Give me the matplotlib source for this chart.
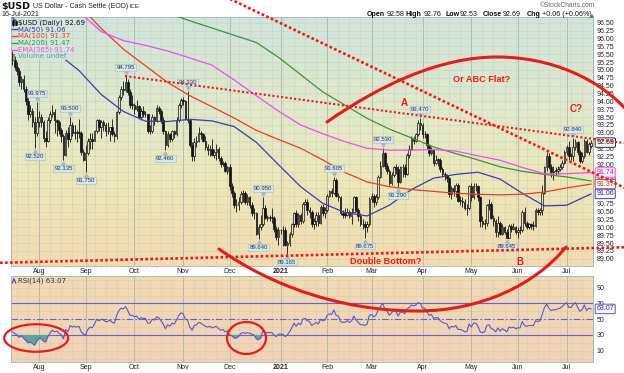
import numpy as np
import pandas as pd
import matplotlib
matplotlib.use("Agg")
import matplotlib.pyplot as plt
from matplotlib.colors import LinearSegmentedColormap
from matplotlib.patches import Ellipse, PathPatch
from matplotlib.path import Path
import matplotlib.transforms as mtrans

plt.rcParams['font.family'] = ['Liberation Sans', 'DejaVu Sans']

W, H, DPI = 624, 373, 100

# ---------------- data ----------------
dates = pd.bdate_range("2020-07-16", "2021-07-16")

opens = [
    95.50, 95.30, 95.10, 94.95, 94.60, 94.70, 94.40, 94.00, 93.60, 93.70, 93.35, 93.00,
    93.35, 93.50, 93.35, 92.85, 92.75, 93.40, 93.60, 93.65, 93.40, 93.35, 93.10, 92.90, 92.30, 93.00, 92.80, 93.25, 93.00, 93.00, 93.00, 93.00, 92.40,
    92.15, 92.35, 92.75, 92.80, 92.75, 93.05, 93.40, 93.20, 93.35, 93.25, 93.05, 93.05, 93.20, 92.95, 92.90, 93.65, 94.15, 94.40, 94.35, 94.60, 94.30, 93.90,
    93.90, 93.75, 93.85, 93.50, 93.70, 93.60, 93.60, 93.05, 93.05, 93.50, 93.40, 93.80, 93.70, 93.40, 93.05, 92.60, 92.95, 92.80, 93.05, 92.95, 93.40, 93.90,
    94.05, 94.00, 93.45, 93.40, 92.60, 92.25, 92.70, 92.75, 93.00, 92.95, 92.75, 92.55, 92.45, 92.50, 92.30, 92.40, 92.50, 92.20, 92.00, 92.05, 91.80,
    91.90, 91.30, 91.10, 90.70, 90.70, 90.80, 91.05, 91.10, 90.80, 90.95, 90.70, 90.45, 90.45, 89.80, 90.00, 90.10, 90.60, 90.30, 90.30, 90.30, 90.30, 89.95, 89.70, 89.90,
    89.90, 89.90, 89.45, 89.50, 89.80, 90.10, 90.45, 90.10, 90.40, 90.20, 90.75, 90.80, 90.55, 90.50, 90.10, 90.20, 90.40, 90.15, 90.65, 90.45,
    90.55, 91.00, 91.15, 91.10, 91.50, 91.00, 90.95, 90.45, 90.40, 90.40, 90.50, 90.35, 90.50, 90.95, 90.55, 90.35, 90.10, 90.10, 90.00, 90.10,
    90.90, 91.00, 90.80, 90.95, 91.60, 91.95, 92.35, 91.95, 91.80, 91.40, 91.65, 91.90, 91.85, 91.45, 91.90, 91.90, 91.70, 92.30, 92.50, 92.80, 92.75, 92.95, 93.30,
    93.25, 92.95, 92.95, 92.60, 92.35, 92.45, 92.05, 92.15, 92.15, 91.85, 91.70, 91.65, 91.55, 91.05, 91.25, 91.15, 91.35, 90.85, 90.85, 90.80, 90.60, 90.60,
    91.30, 90.95, 91.30, 91.30, 90.95, 90.20, 90.10, 90.15, 90.70, 90.75, 90.30, 90.20, 89.85, 90.15, 89.80, 90.00, 89.85, 89.65, 90.05, 89.95, 90.00,
    89.85, 89.90, 89.90, 90.50, 90.15, 90.00, 90.10, 90.05, 90.05, 90.55, 90.50, 90.55, 91.10, 91.90, 92.25, 91.90, 91.75, 91.80, 91.80, 91.85, 91.90, 92.05,
    92.40, 92.55, 92.25, 92.25, 92.55, 92.70, 92.40, 92.10, 92.25, 92.75, 92.40, 92.58,
]
highs = [
    95.60, 95.45, 95.25, 95.05, 94.80, 94.85, 94.50, 94.10, 93.90, 93.80, 93.50, 93.975,
    93.70, 93.60, 93.40, 93.05, 93.50, 93.70, 93.90, 93.75, 93.45, 93.40, 93.15, 92.95, 93.10, 93.20, 93.50, 93.35, 93.25, 93.10, 93.45, 93.05, 92.50,
    92.60, 92.85, 93.00, 93.00, 93.10, 93.45, 93.45, 93.40, 93.40, 93.30, 93.35, 93.20, 93.45, 93.05, 93.70, 94.20, 94.50, 94.65, 94.795, 94.70, 94.40, 94.20,
    93.95, 94.05, 93.90, 93.80, 93.85, 93.70, 93.60, 93.25, 93.60, 93.55, 93.90, 93.85, 93.75, 93.50, 93.10, 93.05, 93.00, 93.10, 93.10, 93.50, 93.95, 94.10,
    94.15, 94.05, 94.33, 93.45, 92.70, 92.85, 92.90, 93.20, 93.05, 93.00, 92.90, 92.65, 92.60, 92.80, 92.50, 92.65, 92.55, 92.25, 92.10, 92.10, 91.95,
    92.00, 91.40, 91.15, 90.90, 90.95, 91.15, 91.20, 91.15, 91.05, 91.00, 90.80, 90.60, 90.50, 90.10, 90.40, 90.95, 90.70, 90.40, 90.40, 90.60, 90.35, 90.05, 90.00, 89.95,
    90.05, 90.00, 89.55, 89.85, 90.15, 90.50, 90.55, 90.45, 90.45, 90.80, 90.90, 90.90, 90.65, 90.55, 90.30, 90.50, 90.50, 90.70, 90.75, 90.65,
    91.05, 91.20, 91.25, 91.605, 91.55, 91.10, 91.00, 90.55, 90.60, 90.60, 90.55, 90.60, 91.00, 91.00, 90.60, 90.45, 90.25, 90.20, 90.20, 90.95,
    91.10, 91.05, 91.05, 91.65, 92.10, 92.53, 92.40, 92.05, 91.85, 91.75, 91.95, 92.00, 91.95, 91.95, 92.00, 92.00, 92.35, 92.60, 92.90, 92.90, 93.00, 93.40, 93.47,
    93.30, 93.05, 93.00, 92.65, 92.55, 92.50, 92.30, 92.20, 92.20, 91.90, 91.75, 91.70, 91.60, 91.30, 91.35, 91.40, 91.40, 91.00, 90.95, 90.90, 90.75, 91.35,
    91.40, 91.40, 91.40, 91.35, 91.00, 90.35, 90.25, 90.75, 90.90, 90.80, 90.40, 90.25, 90.35, 90.20, 90.10, 90.05, 89.95, 90.10, 90.10, 90.15, 90.05,
    90.00, 90.05, 90.55, 90.65, 90.20, 90.15, 90.15, 90.20, 90.60, 90.60, 90.60, 91.35, 91.95, 92.40, 92.35, 92.00, 91.95, 91.90, 91.95, 92.00, 92.15, 92.45,
    92.60, 92.75, 92.35, 92.84, 92.80, 92.75, 92.45, 92.40, 92.80, 92.80, 92.70, 92.76,
]
lows = [
    95.15, 95.00, 94.85, 94.50, 94.40, 94.30, 93.90, 93.40, 93.50, 93.20, 92.52, 92.90,
    93.20, 93.20, 92.70, 92.55, 92.70, 93.30, 93.50, 93.00, 92.90, 92.95, 92.70, 92.135, 92.25, 92.55, 92.70, 92.90, 92.80, 92.70, 92.85, 92.30, 92.10,
    91.75, 92.30, 92.50, 92.50, 92.75, 93.00, 93.05, 92.85, 93.05, 92.90, 92.95, 92.75, 92.90, 92.70, 92.80, 93.60, 94.05, 94.20, 94.30, 94.20, 93.80, 93.75,
    93.60, 93.70, 93.45, 93.40, 93.50, 93.50, 93.00, 92.95, 93.00, 93.25, 93.35, 93.60, 93.30, 92.95, 92.46, 92.55, 92.70, 92.75, 92.85, 92.90, 93.35, 93.80,
    93.90, 93.40, 93.30, 92.55, 92.10, 92.10, 92.55, 92.70, 92.80, 92.70, 92.45, 92.30, 92.25, 92.30, 92.20, 92.15, 92.10, 91.90, 91.95, 91.75, 91.70,
    91.20, 90.95, 90.60, 90.50, 90.55, 90.75, 90.80, 90.75, 90.70, 90.60, 90.35, 90.25, 89.75, 89.64, 89.90, 90.05, 90.25, 90.20, 90.20, 90.15, 89.85, 89.60, 89.45, 89.80,
    89.40, 89.40, 89.165, 89.40, 89.70, 90.00, 90.00, 90.00, 90.10, 90.15, 90.70, 90.40, 90.30, 90.00, 89.95, 90.05, 90.05, 90.10, 90.35, 90.30,
    90.50, 90.95, 90.95, 91.05, 90.95, 90.85, 90.40, 90.30, 90.30, 90.35, 90.30, 90.10, 90.45, 90.50, 90.20, 90.05, 89.95, 89.675, 89.85, 90.05,
    90.80, 90.65, 90.70, 90.90, 91.55, 91.90, 91.85, 91.70, 91.35, 91.35, 91.60, 91.70, 91.29, 91.40, 91.60, 91.60, 91.65, 92.20, 92.45, 92.65, 92.70, 92.90, 93.10,
    92.85, 92.85, 92.50, 92.25, 92.30, 91.95, 92.00, 91.95, 91.75, 91.60, 91.50, 91.45, 90.95, 90.90, 91.00, 90.95, 90.80, 90.70, 90.65, 90.55, 90.40, 90.55,
    90.85, 90.90, 91.15, 90.85, 90.00, 90.00, 89.95, 90.05, 90.55, 90.25, 90.05, 89.70, 89.70, 89.75, 89.75, 89.80, 89.645, 89.65, 89.85, 89.90, 89.80,
    89.65, 89.80, 89.85, 90.05, 89.95, 89.95, 89.95, 89.90, 90.00, 90.40, 90.40, 90.40, 91.05, 91.80, 91.85, 91.60, 91.50, 91.65, 91.70, 91.80, 91.85, 92.00,
    92.30, 92.15, 92.15, 92.10, 92.45, 92.30, 92.05, 92.05, 92.20, 92.35, 92.30, 92.53,
]
closes = [
    95.30, 95.10, 94.95, 94.60, 94.70, 94.40, 94.00, 93.60, 93.70, 93.35, 93.00, 93.35,
    93.50, 93.35, 92.85, 92.75, 93.40, 93.60, 93.65, 93.40, 93.35, 93.10, 92.90, 92.30, 93.00, 92.80, 93.25, 93.00, 93.00, 93.00, 93.00, 92.40, 92.15,
    92.35, 92.75, 92.80, 92.75, 93.05, 93.40, 93.20, 93.35, 93.25, 93.05, 93.05, 93.20, 92.95, 92.90, 93.65, 94.15, 94.40, 94.35, 94.60, 94.30, 93.90, 93.90,
    93.75, 93.85, 93.50, 93.70, 93.60, 93.60, 93.05, 93.05, 93.50, 93.40, 93.80, 93.70, 93.40, 93.05, 92.60, 92.95, 92.80, 93.05, 92.95, 93.40, 93.90, 94.05,
    94.00, 93.45, 93.40, 92.60, 92.25, 92.70, 92.75, 93.00, 92.95, 92.75, 92.55, 92.45, 92.50, 92.30, 92.40, 92.50, 92.20, 92.00, 92.05, 91.80, 91.90,
    91.30, 91.10, 90.70, 90.70, 90.80, 91.05, 91.10, 90.80, 90.95, 90.70, 90.45, 90.45, 89.80, 90.00, 90.10, 90.60, 90.30, 90.30, 90.30, 90.30, 89.95, 89.70, 89.90, 89.90,
    89.90, 89.45, 89.50, 89.80, 90.10, 90.45, 90.10, 90.40, 90.20, 90.75, 90.80, 90.55, 90.50, 90.10, 90.20, 90.40, 90.15, 90.65, 90.45, 90.55,
    91.00, 91.15, 91.10, 91.50, 91.00, 90.95, 90.45, 90.40, 90.40, 90.50, 90.35, 90.50, 90.95, 90.55, 90.35, 90.10, 90.10, 90.00, 90.10, 90.90,
    91.00, 90.80, 90.95, 91.60, 91.95, 92.35, 91.95, 91.80, 91.40, 91.65, 91.90, 91.85, 91.45, 91.90, 91.90, 91.70, 92.30, 92.50, 92.80, 92.75, 92.95, 93.30, 93.25,
    92.95, 92.95, 92.60, 92.35, 92.45, 92.05, 92.15, 92.15, 91.85, 91.70, 91.65, 91.55, 91.05, 91.25, 91.15, 91.35, 90.85, 90.85, 90.80, 90.60, 90.60, 91.30,
    90.95, 91.30, 91.30, 90.95, 90.20, 90.10, 90.15, 90.70, 90.75, 90.30, 90.20, 89.85, 90.15, 89.80, 90.00, 89.85, 89.65, 90.05, 89.95, 90.00, 89.85,
    89.90, 89.90, 90.50, 90.15, 90.00, 90.10, 90.05, 90.05, 90.55, 90.50, 90.55, 91.10, 91.90, 92.25, 91.90, 91.75, 91.80, 91.80, 91.85, 91.90, 92.05, 92.40,
    92.55, 92.25, 92.25, 92.55, 92.70, 92.40, 92.10, 92.25, 92.75, 92.40, 92.63, 92.69,
]

# moving-average overlays (sample every 10 bars)
ma_idx = [0, 10, 20, 30, 40, 50, 60, 70, 80, 90, 100, 110, 120, 130, 140, 150, 160, 170,
          180, 190, 200, 210, 220, 230, 240, 250, 261]
ma50 = [96.65, 96.10, 95.54, 94.98, 94.22, 93.68, 93.37, 93.36, 93.43, 93.38, 93.20, 92.70,
        91.99, 91.29, 90.76, 90.47, 90.36, 90.70, 91.20, 91.56, 91.68, 91.75, 91.53, 91.08,
        90.68, 90.70, 91.06]
ma100 = [99.20, 98.50, 97.80, 97.05, 96.32, 95.66, 95.13, 94.60, 94.18, 93.83, 93.47, 93.08,
         92.79, 92.51, 92.14, 91.74, 91.44, 91.29, 91.20, 91.14, 91.08, 91.05, 91.03, 91.05,
         91.12, 91.25, 91.37]
ma200 = [97.80, 97.70, 97.55, 97.40, 97.30, 97.15, 96.98, 96.80, 96.56, 96.33, 96.10, 95.87,
         95.40, 94.85, 94.30, 93.88, 93.46, 93.12, 92.84, 92.55, 92.34, 92.14, 91.92, 91.78,
         91.68, 91.60, 91.47]
ema365 = [98.00, 97.60, 97.20, 96.85, 96.22, 95.93, 95.78, 95.60, 95.38, 95.15, 94.68, 94.18,
          93.69, 93.25, 92.97, 92.72, 92.51, 92.45, 92.45, 92.47, 92.42, 92.27, 92.13, 91.90,
          91.70, 91.70, 91.74]

rsi = [
    34, 32, 30, 27, 29, 26, 23, 20, 21, 19, 17, 22,
    26, 25, 22, 21, 28, 33, 36, 34, 35, 32, 30, 25, 37, 34, 42, 40, 41, 40, 41, 34, 31,
    30, 37, 40, 39, 44, 50, 48, 50, 49, 47, 47, 49, 46, 45, 55, 61, 64, 63, 66, 61, 55, 55,
    53, 54, 50, 52, 51, 51, 45, 45, 50, 49, 53, 52, 48, 44, 38, 43, 41, 45, 44, 49, 55, 58,
    57, 50, 49, 40, 36, 42, 43, 46, 45, 43, 41, 40, 41, 39, 40, 41, 38, 36, 37, 34, 35,
    30, 29, 26, 26, 28, 32, 33, 32, 33, 32, 31, 30, 25, 24, 26, 36, 33, 33, 33, 33, 30, 28, 31, 31,
    31, 28, 30, 34, 39, 45, 41, 45, 43, 50, 51, 48, 47, 42, 44, 46, 44, 50, 48, 49,
    55, 57, 56, 62, 55, 54, 47, 46, 46, 48, 46, 48, 54, 49, 46, 43, 43, 42, 44, 55,
    56, 53, 55, 62, 66, 70, 63, 60, 55, 58, 61, 60, 54, 59, 59, 57, 63, 65, 68, 67, 68, 71, 70,
    64, 64, 59, 55, 56, 51, 52, 52, 48, 46, 45, 44, 38, 41, 40, 42, 37, 37, 36, 34, 34, 44,
    40, 45, 45, 41, 34, 33, 34, 42, 43, 38, 37, 34, 39, 35, 38, 36, 34, 40, 39, 40, 38,
    39, 39, 47, 42, 41, 42, 42, 42, 48, 47, 48, 56, 65, 69, 64, 61, 62, 62, 63, 64, 66, 69,
    71, 65, 65, 69, 71, 65, 60, 62, 68, 61, 64, 63.07,
]

peak_idx = [11, 26, 51, 79, 113, 145, 167, 184, 253]
peak_val = [93.975, 93.500, 94.795, 94.330, 90.950, 91.605, 92.530, 93.470, 92.840]
trough_idx = [10, 23, 33, 69, 111, 124, 159, 174, 223]
trough_val = [92.520, 92.135, 91.750, 92.460, 89.640, 89.165, 89.675, 91.290, 89.645]

# ---------------- figure ----------------
fig = plt.figure(figsize=(W / DPI, H / DPI), dpi=DPI)
fig.patch.set_facecolor("white")


def rect(l, t, r, b):
    return [l / W, 1 - b / H, (r - l) / W, (b - t) / H]


n = len(dates)
x = np.arange(n)
O, Hh, L, C = (np.array(v, float) for v in (opens, highs, lows, closes))
R = np.array(rsi, float)
XL = (-0.9, n - 0.1)
YM = (88.77, 96.68)
YR = (-4.3, 105.2)

month_pos = [i for i in range(1, n) if dates[i].month != dates[i - 1].month]
month_txt = [str(dates[i].year) if dates[i].month == 1 else dates[i].strftime("%b") for i in month_pos]
week_pos = [i for i in range(n) if dates[i].weekday() == 0]

grad = np.linspace(0, 1, 256).reshape(-1, 1)
cm_main = LinearSegmentedColormap.from_list("bgm", ["#cfe5dd", "#dfe9cb", "#eee7b6", "#f4dcb0"])
cm_rsi = LinearSegmentedColormap.from_list("bgr", ["#f2dbb3", "#f1d2b7"])

ax = fig.add_axes(rect(10.5, 17, 593, 266))
rx = fig.add_axes(rect(10.5, 275.7, 593, 362))
ax.imshow(grad, cmap=cm_main, aspect="auto", extent=(XL[0], XL[1], YM[0], YM[1]),
          origin="upper", zorder=-10, interpolation="bilinear")
rx.imshow(grad, cmap=cm_rsi, aspect="auto", extent=(XL[0], XL[1], YR[0], YR[1]),
          origin="upper", zorder=-10, interpolation="bilinear")

for a in (ax, rx):
    a.set_xlim(XL)
    a.set_xticks(month_pos)
    a.set_xticklabels(month_txt)
    a.set_xticks(week_pos, minor=True)
    a.grid(True, which="major", axis="x", color="#aab5b0", lw=0.6)
    a.grid(True, which="minor", axis="x", color="#cbd1c6", lw=0.4)
    a.tick_params(axis="both", which="both", length=0, labelsize=5, colors="#222222")
    a.tick_params(axis="x", pad=1.3)
    a.yaxis.tick_right()
    a.tick_params(axis="y", pad=2.4)
    for s in a.spines.values():
        s.set_color("#9fb2ba")
        s.set_linewidth(0.6)
    for t in a.get_xticklabels():
        if t.get_text().isdigit():
            t.set_fontweight("bold")

# main panel
ax.set_ylim(YM)
yt = np.arange(89.0, 96.51, 0.25)
ax.set_yticks(yt)
ax.set_yticklabels([f"{v:.2f}" for v in yt])
ax.grid(True, which="major", axis="y", color="#cbd1c6", lw=0.4)

up = C >= O
top = np.maximum(O, C)
bot = np.minimum(O, C)
bh = np.maximum(top - bot, 0.012)
ax.vlines(x, top, Hh, color="#111111", lw=0.6, zorder=3)
ax.vlines(x, L, bot, color="#111111", lw=0.6, zorder=3)
ax.bar(x[up], bh[up], bottom=bot[up], width=0.72, facecolor="none", edgecolor="#111111", lw=0.5, zorder=3)
ax.bar(x[~up], bh[~up], bottom=bot[~up], width=0.72, facecolor="#111111", edgecolor="#111111", lw=0.5, zorder=3)

c50, c100, c200, cema = "#3d3da8", "#e0402c", "#3a963a", "#f04cf0"
ax.plot(ma_idx, ma50, color=c50, lw=0.9, zorder=4)
ax.plot(ma_idx, ma100, color=c100, lw=0.9, zorder=4)
ax.plot(ma_idx, ma200, color=c200, lw=0.9, zorder=4)
ax.plot(ma_idx, ema365, color=cema, lw=0.9, zorder=4)

lab_box = dict(boxstyle="square,pad=0.15", fc="#d4e7ec", ec="#a2bcc6", lw=0.4)
for i, v in zip(peak_idx, peak_val):
    ax.annotate(f"{v:.3f}", (i, v), xytext=(0, 8.5), textcoords="offset pixels", ha="center",
                va="center", fontsize=4.3, color="#333333", bbox=lab_box, zorder=6)
    ax.plot(i, v, marker="v", ms=2.4, color="#a2bcc6", zorder=6,
            transform=mtrans.offset_copy(ax.transData, fig, x=0, y=3, units="dots"))
for i, v in zip(trough_idx, trough_val):
    ax.annotate(f"{v:.3f}", (i, v), xytext=(0, -8.5), textcoords="offset pixels", ha="center",
                va="center", fontsize=4.3, color="#333333", bbox=lab_box, zorder=6)
    ax.plot(i, v, marker="^", ms=2.4, color="#a2bcc6", zorder=6,
            transform=mtrans.offset_copy(ax.transData, fig, x=0, y=-3, units="dots"))

bt = mtrans.blended_transform_factory(ax.transAxes, ax.transData)
for val, ec, tc in [(ma200[-1], c200, "#2c6e2c"), (ma100[-1], c100, "#c0302a"),
                    (ema365[-1], cema, "#b020b0"), (ma50[-1], c50, "#2e2e90"),
                    (C[-1], "#333333", "#111111")]:
    ax.text(1.0058, val, f"{val:.2f}", transform=bt, fontsize=5, color=tc, ha="left", va="center",
            bbox=dict(boxstyle="round,pad=0.18", fc="#f4f4f4", ec=ec, lw=0.7), clip_on=False, zorder=30)

# RSI panel
rx.set_ylim(YR)
rx.set_yticks([10, 30, 50, 70, 90])
rx.set_yticks([0, 20, 40, 60, 80, 100], minor=True)
rx.grid(True, which="both", axis="y", color="#dec8a6", lw=0.4)
rx.fill_between(x, R, 30, where=R < 30, interpolate=True, color="#5ea49c", lw=0, zorder=3)
rx.axhline(70, color="#6262d0", lw=0.8, zorder=2)
rx.axhline(30, color="#6262d0", lw=0.8, zorder=2)
rx.axhline(50, color="#6262d0", lw=0.8, ls=(0, (6, 2, 1.5, 2)), zorder=2)
rx.plot(x, R, color="#5858cc", lw=0.8, zorder=4)
bt2 = mtrans.blended_transform_factory(rx.transAxes, rx.transData)
rx.text(1.0058, R[-1], f"{R[-1]:.2f}", transform=bt2, fontsize=5, color="#2e2e90", ha="left",
        va="center", bbox=dict(boxstyle="round,pad=0.18", fc="#f4f4f4", ec="#5858cc", lw=0.7),
        clip_on=False, zorder=30)

# ---------------- text: header & legends ----------------
def ftext(px, py, s, **kw):
    kw.setdefault("va", "center")
    return fig.text(px / W, 1 - py / H, s, **kw)


ftext(1, 6.2, "$USD", fontsize=6.8, fontweight="bold", family="DejaVu Sans", color="#111111")
ftext(33, 6.4, "US Dollar - Cash Settle (EOD)", fontsize=5.0, color="#222222")
ftext(129.5, 6.6, "ICE", fontsize=4.3, color="#222222")
ftext(1, 14.3, "16-Jul-2021", fontsize=5.1, color="#222222")
ftext(595, 5.8, "\u00a9StockCharts.com", fontsize=4.8, color="#666666", ha="right")
hdr = [(366.7, "Open", True), (387, "92.58", False), (406, "High", True), (424, "92.76", False),
       (445.7, "Low", True), (460, "92.53", False), (483, "Close", True), (503, "92.69", False),
       (526.7, "Chg", True), (541.7, "+0.06 (+0.06%)", False)]
for px, s, b in hdr:
    ftext(px, 14.3, s, fontsize=5.1, fontweight="bold" if b else "normal", color="#111111")
ftext(590, 14.6, "\u25b2", fontsize=3.8, color="#2a9a2a", family="DejaVu Sans")

leg_bg = dict(boxstyle="square,pad=0.08", fc="#d3e6dc", ec="none", alpha=0.92)
legend = [("$USD (Daily) 92.69", "#111111", None), ("MA(50) 91.06", c50, c50),
          ("MA(100) 91.37", c100, c100), ("MA(200) 91.47", c200, c200),
          ("EMA(365) 91.74", cema, cema), ("Volume undef", "#5a9a9a", None)]
for k, (s, tc, lc) in enumerate(legend):
    yy = 22.6 + 6.75 * k
    ftext(17.5, yy, s, fontsize=5.0, color=tc, family="DejaVu Sans", bbox=leg_bg)

ftext(18.5, 280.8, "RSI(14) 63.07", fontsize=5.0, color="#333333", family="DejaVu Sans")

# ---------------- annotation overlay (pixel space) ----------------
ov = fig.add_axes([0, 0, 1, 1], zorder=20)
ov.set_xlim(0, W)
ov.set_ylim(H, 0)
ov.axis("off")
ov.patch.set_alpha(0)

for k, (s, tc, lc) in enumerate(legend):
    yy = 22.6 + 6.75 * k
    if lc is not None:
        ov.plot([12, 16.5], [yy, yy], color=lc, lw=1.0)
ov.plot([13.2, 13.2], [19.5, 25.5], color="#111111", lw=0.6)
ov.plot([13.2, 13.2], [21, 24], color="#111111", lw=1.8)
ov.plot([15.5, 15.5], [20.5, 25], color="#111111", lw=0.6)
ov.plot([15.5, 15.5], [21.5, 23.5], color="#111111", lw=1.8)
ov.plot([12.3, 14.0, 15.7], [283, 278.8, 283], color="#4b4bc0", lw=0.9)
ov.plot([12.5, 12.5], [55, 58.5], color="#9a9a60", lw=0.8)
ov.plot([14.2, 14.2], [53.5, 58.5], color="#9a9a60", lw=0.8)

red = "#ea1a1a"
ov.plot([228, 626], [-2, 188.5], color=red, lw=1.9, ls=(0, (1, 0.9)), dash_capstyle="butt")
ov.plot([125, 626], [76, 143.3], color=red, lw=1.5, ls=(0, (1, 1.1)), dash_capstyle="butt")
ov.plot([0, 626], [262.8, 247.2], color=red, lw=1.9, ls=(0, (1, 0.9)), dash_capstyle="butt")

C4 = Path.CURVE4
arc_top = Path([(327, 122), (380, 85), (440, 57), (497, 57), (550, 57), (600, 78), (630, 114)],
               [Path.MOVETO, C4, C4, C4, C4, C4, C4])
arc_bot = Path([(219, 249), (270, 285), (340, 311), (418, 311), (480, 311), (535, 285), (566, 247)],
               [Path.MOVETO, C4, C4, C4, C4, C4, C4])
for p in (arc_top, arc_bot):
    ov.add_patch(PathPatch(p, fill=False, ec=red, lw=2.2, capstyle="round"))

ov.add_patch(Ellipse((36.2, 338), 64, 27.5, fill=False, ec=red, lw=1.6))
ov.add_patch(Ellipse((246.5, 338), 39, 32, fill=False, ec=red, lw=1.6))

tkw = dict(color=red, fontweight="bold", ha="center", va="center")
ov.text(482, 80, "Or ABC Flat?", fontsize=6.6, **tkw)
ov.text(404, 103.3, "A", fontsize=7, **tkw)
ov.text(576, 109, "C?", fontsize=7, **tkw)
ov.text(520, 262.3, "B", fontsize=7, **tkw)
ov.text(385.7, 261.6, "Double Bottom?", fontsize=6.6, **tkw)

fig.savefig("out.png", dpi=DPI, facecolor="white")
